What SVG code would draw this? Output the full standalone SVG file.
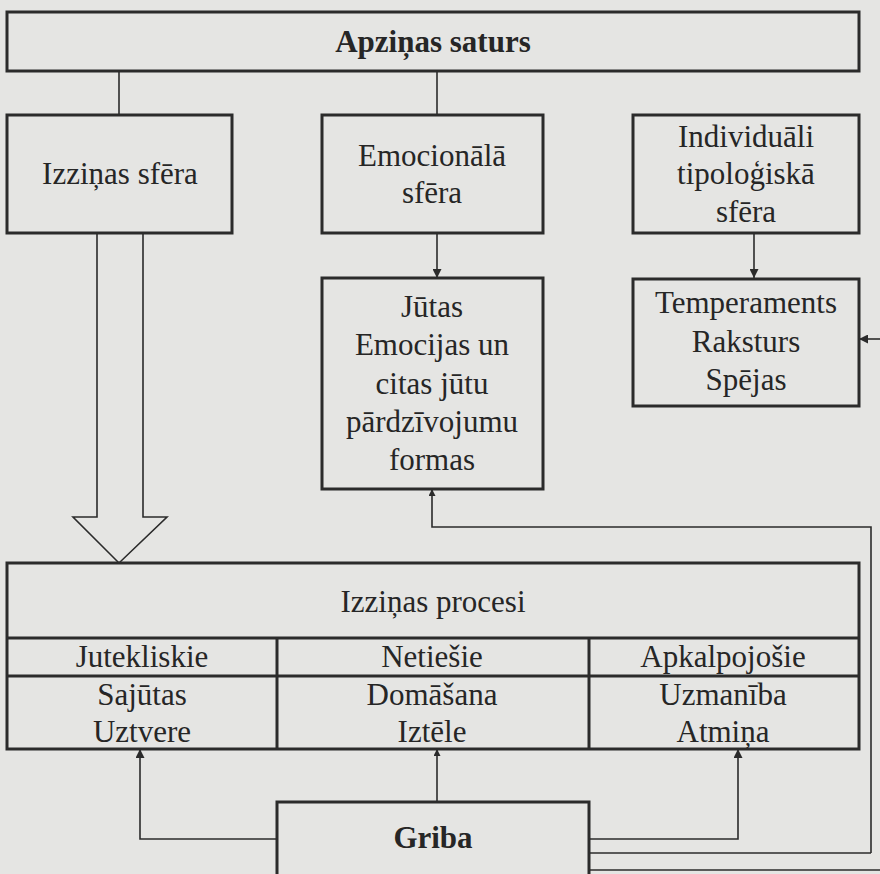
<svg xmlns="http://www.w3.org/2000/svg" width="880" height="874" viewBox="0 0 880 874">
<defs>
<style>
.box{fill:none;stroke:#2b2b2b;stroke-width:3}
.ln{fill:none;stroke:#2b2b2b;stroke-width:1.6}
.t{font-family:"Liberation Serif","Times New Roman",serif;font-size:31px;fill:#262626;text-anchor:middle}
.b{font-weight:bold}
</style>
<marker id="ah" viewBox="0 0 10 10" refX="10" refY="5" markerWidth="7" markerHeight="7" markerUnits="userSpaceOnUse" orient="auto">
<path d="M0,0 L10,5 L0,10 z" fill="#2b2b2b"/>
</marker>
<marker id="ah2" viewBox="0 0 10 10" refX="10" refY="5" markerWidth="9" markerHeight="9" markerUnits="userSpaceOnUse" orient="auto">
<path d="M0,0 L10,5 L0,10 z" fill="#2b2b2b"/>
</marker>
</defs>
<rect width="880" height="874" fill="#e5e5e3"/>

<g id="connectors">
<line class="ln" x1="119" y1="71" x2="119" y2="115"/>
<line class="ln" x1="437" y1="71" x2="437" y2="115"/>
<line class="ln" x1="437" y1="233" x2="437" y2="278" marker-end="url(#ah2)"/>
<line class="ln" x1="754" y1="233" x2="754" y2="278" marker-end="url(#ah2)"/>
<path class="ln" d="M97,233 V517 H73 L119,563 L167,517 H143 V233"/>
<path class="ln" d="M871,853 V527 H432 V489" marker-end="url(#ah)"/>
<line class="ln" x1="589" y1="853" x2="871" y2="853"/>
<line class="ln" x1="589" y1="870" x2="880" y2="870"/>
<line class="ln" x1="880" y1="339" x2="859" y2="339" marker-end="url(#ah2)"/>
<path class="ln" d="M277,839 H140 V749" marker-end="url(#ah2)"/>
<line class="ln" x1="437" y1="802" x2="437" y2="749" marker-end="url(#ah)"/>
<path class="ln" d="M589,839 H738 V749" marker-end="url(#ah2)"/>
</g>

<g id="apzinas-saturs">
<rect class="box" x="7" y="12" width="852" height="59"/>
<text class="t b" x="433" y="52">Apziņas saturs</text>
</g>

<g id="izzinas-sfera">
<rect class="box" x="7" y="115" width="225" height="118"/>
<text class="t" x="120" y="184">Izziņas sfēra</text>
</g>

<g id="emocionala-sfera">
<rect class="box" x="322" y="115" width="221" height="118"/>
<text class="t" x="432" y="166">Emocionālā</text>
<text class="t" x="432" y="203">sfēra</text>
</g>

<g id="individuali-tipologiska-sfera">
<rect class="box" x="633" y="115" width="226" height="118"/>
<text class="t" x="746" y="147">Individuāli</text>
<text class="t" x="746" y="184">tipoloģiskā</text>
<text class="t" x="746" y="222">sfēra</text>
</g>

<g id="jutas">
<rect class="box" x="322" y="278" width="221" height="211"/>
<text class="t" x="432" y="317">Jūtas</text>
<text class="t" x="432" y="355">Emocijas un</text>
<text class="t" x="432" y="394">citas jūtu</text>
<text class="t" x="432" y="432">pārdzīvojumu</text>
<text class="t" x="432" y="470">formas</text>
</g>

<g id="temperaments">
<rect class="box" x="633" y="279" width="226" height="127"/>
<text class="t" x="746" y="313">Temperaments</text>
<text class="t" x="746" y="352">Raksturs</text>
<text class="t" x="746" y="390">Spējas</text>
</g>

<g id="izzinas-procesi">
<rect class="box" x="7" y="563" width="852" height="186"/>
<line class="box" x1="7" y1="638" x2="859" y2="638"/>
<line class="box" x1="7" y1="676" x2="859" y2="676"/>
<line class="box" x1="277" y1="638" x2="277" y2="749"/>
<line class="box" x1="589" y1="638" x2="589" y2="749"/>
<text class="t" x="433" y="612">Izziņas procesi</text>
<text class="t" x="142" y="667">Jutekliskie</text>
<text class="t" x="432" y="667">Netiešie</text>
<text class="t" x="723" y="667">Apkalpojošie</text>
<text class="t" x="142" y="705">Sajūtas</text>
<text class="t" x="142" y="742">Uztvere</text>
<text class="t" x="432" y="705">Domāšana</text>
<text class="t" x="432" y="742">Iztēle</text>
<text class="t" x="723" y="705">Uzmanība</text>
<text class="t" x="723" y="742">Atmiņa</text>
</g>

<g id="griba">
<rect class="box" x="277" y="802" width="312" height="90"/>
<text class="t b" x="433" y="848">Griba</text>
</g>
</svg>
